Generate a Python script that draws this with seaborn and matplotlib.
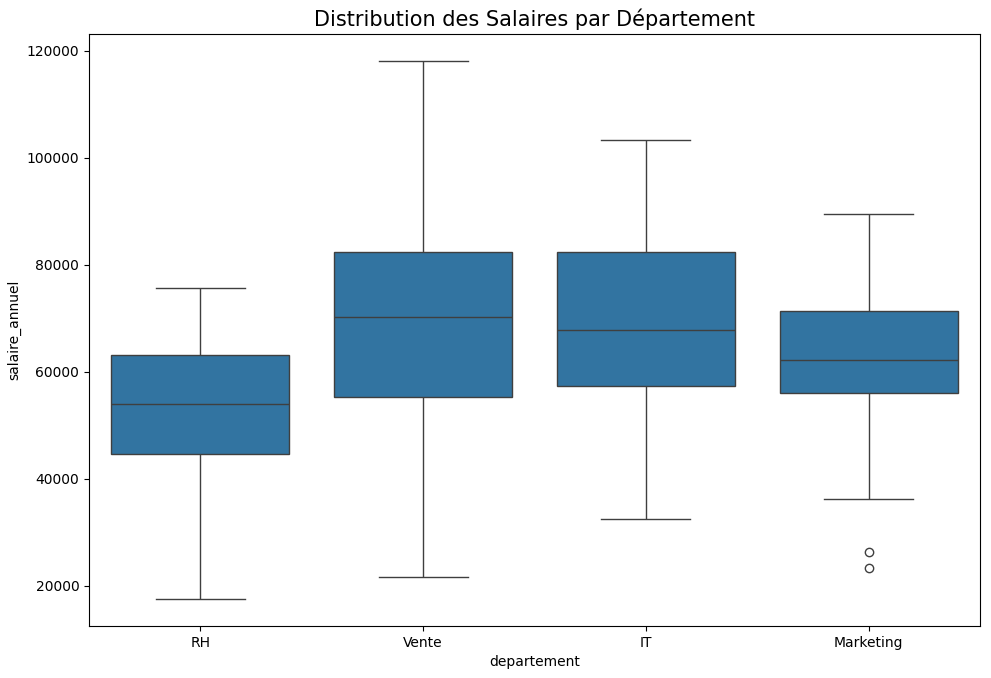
import seaborn as sns
import pandas as pd
import matplotlib.pyplot as plt

departements = ['RH', 'Vente', 'IT', 'Marketing']

# salaires (min, q1, mediane, q3, max + valeurs intermediaires)
salaires_rh = [17500, 30000, 40000, 44600, 48000, 51000, 53900, 57000, 60000, 63100, 67000, 71000, 75700]
salaires_vente = [21700, 38000, 49000, 55200, 60000, 65500, 70200, 74000, 78500, 82400, 90000, 101000, 118100]
salaires_it = [32400, 45000, 52000, 57400, 61000, 64500, 67800, 72000, 77000, 82400, 88000, 95000, 103300]
salaires_marketing = [23400, 26300, 36200, 56000, 58500, 60500, 62200, 65000, 68500, 71400, 76000, 82000, 89400]

valeurs = [salaires_rh, salaires_vente, salaires_it, salaires_marketing]
rows = []
for dep, sal in zip(departements, valeurs):
    for s in sal:
        rows.append({'departement': dep, 'salaire_annuel': s})
df = pd.DataFrame(rows)

fig = plt.figure(figsize=(9.91, 6.78), dpi=100)
ax = fig.add_subplot(111)
fig.subplots_adjust(left=89/991, right=980/991, top=1-34/678, bottom=1-626/678)

sns.boxplot(data=df, x='departement', y='salaire_annuel', order=departements, ax=ax)
ax.set_title('Distribution des Salaires par Département', fontsize=15)

plt.savefig('out.png', dpi=100)
